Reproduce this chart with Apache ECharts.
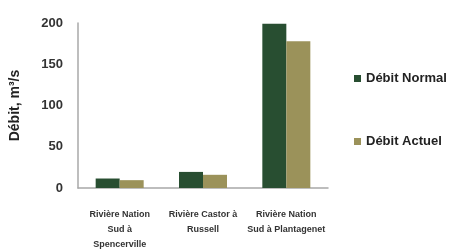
<!DOCTYPE html>
<html>
<head>
<meta charset="utf-8">
<script src="https://cdn.jsdelivr.net/npm/echarts@6/dist/echarts.min.js"></script>
<style>
  html, body { margin: 0; padding: 0; background: #fff; }
  #chart { width: 454px; height: 252px; }
</style>
</head>
<body>
<div id="chart"></div>
<script>
// stations (x categories)
var stations = ["Rivière Nation\nSud à\nSpencerville", "Rivière Castor à\nRussell", "Rivière Nation\nSud à Plantagenet"];
// flows, m3/s
var debitNormal = [11.5, 19.5, 199];
var debitActuel = [9.5, 16, 178];
var yTicks = [0, 50, 100, 150, 200];

var myChart = echarts.init(document.getElementById("chart"));
myChart.setOption({
    animation: false,
    color: ["#284e31", "#9b925a"],
    grid: { left: 77, right: 126, top: 23, bottom: 59 },
    legend: {
        orient: "vertical",
        left: 349,
        top: 67,
        itemGap: 50,
        itemWidth: 7,
        itemHeight: 7,
        icon: "rect",
        textStyle: { fontFamily: "Liberation Sans", fontWeight: "bold", fontSize: 13, color: "#222" },
        data: ["Débit Normal", "Débit Actuel"]
    },
    xAxis: {
        type: "category",
        data: stations,
        axisLine: { lineStyle: { color: "#a8a8a8", width: 1.5 } },
        axisTick: { show: false },
        axisLabel: {
            interval: 0,
            margin: 19,
            fontFamily: "Liberation Sans",
            fontSize: 9,
            fontWeight: "bold",
            lineHeight: 15,
            color: "#333"
        }
    },
    yAxis: {
        type: "value",
        min: yTicks[0],
        max: yTicks[yTicks.length - 1],
        interval: 50,
        name: "Débit, m³/s",
        nameLocation: "middle",
        nameGap: 56,
        nameTextStyle: { fontFamily: "Liberation Sans", fontWeight: "bold", fontSize: 14, color: "#222" },
        axisLine: { show: true, lineStyle: { color: "#a8a8a8", width: 1.5 } },
        axisTick: { show: false },
        splitLine: { show: false },
        axisLabel: { margin: 15, fontFamily: "Liberation Sans", fontWeight: "bold", fontSize: 13, color: "#333" }
    },
    series: [
        { name: "Débit Normal", type: "bar", data: debitNormal, barWidth: 24, barGap: "0%" },
        { name: "Débit Actuel", type: "bar", data: debitActuel, barWidth: 24 }
    ]
});
</script>
</body>
</html>
